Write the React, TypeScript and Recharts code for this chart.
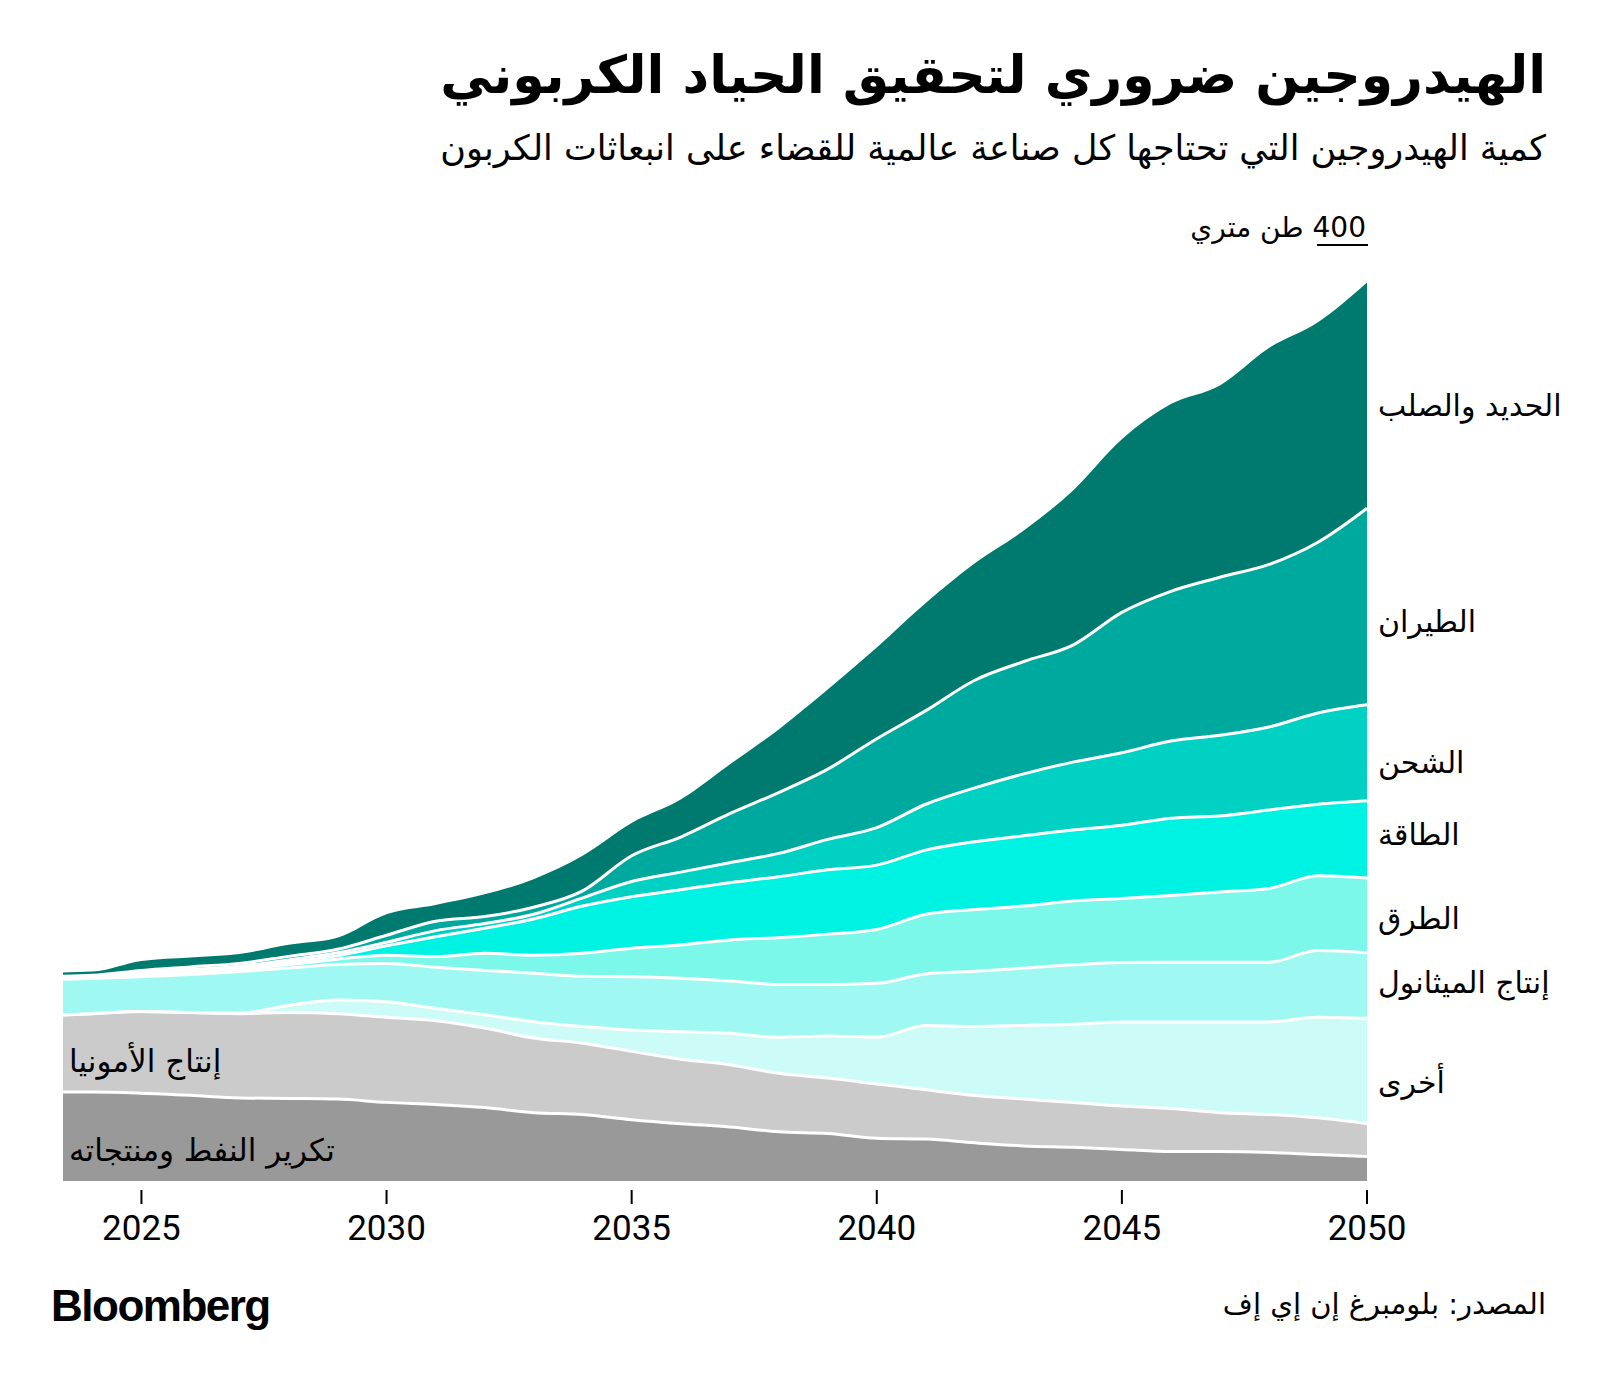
import { AreaChart, Area, XAxis, YAxis } from 'recharts';

// السنوات
const years = [
    2023, 2024, 2025, 2026, 2027, 2028, 2029, 2030, 2031, 2032, 2033, 2034, 2035, 2036,
    2037, 2038, 2039, 2040, 2041, 2042, 2043, 2044, 2045, 2046, 2047, 2048, 2049, 2050,
];

// الطلب على الهيدروجين حسب القطاع (مليون طن متري)
const oil = [38, 38, 37.5, 36.6, 35.5, 35.3, 35, 33.6, 32.7, 31.4, 29.2, 28.4, 26.2, 24.5, 23.1, 21, 20.3, 18.3, 17.9, 16.3, 15, 14.4, 13.5, 12.6, 12.6, 12.2, 11.3, 10.5];
const ammonia = [32.5, 33.5, 34.9, 35.4, 36, 36.7, 36.5, 36.4, 35.8, 34, 31.9, 30.5, 29.2, 27.5, 26.6, 25, 23.7, 23.2, 21.1, 20.2, 20, 19.1, 18.5, 18.4, 16.6, 16.2, 15.7, 14];
const other = [0, 0, 0, 0, 0.3, 3, 5.9, 6.6, 5.3, 5.6, 7, 7.1, 9.1, 11.8, 13.4, 15.4, 18, 19.9, 27.5, 29.5, 31.5, 33.5, 36, 37, 38.8, 39.6, 43, 45];
const methanol = [15.5, 15, 14.9, 16.2, 17.7, 16, 15.1, 16.4, 17.5, 19, 20.7, 21.5, 22.8, 22.8, 22.4, 22.6, 22, 23.1, 22, 23.6, 24.5, 25.4, 25.4, 25.5, 25.5, 25.5, 28.5, 28];
const road = [0.4, 0.4, 0.7, 0.8, 0.8, 1.5, 2.3, 3.5, 4.6, 7.3, 7.7, 9.8, 12.2, 14.3, 17.5, 20, 21.5, 23, 25.5, 26.4, 26.5, 27.3, 27.3, 28.5, 30, 31.5, 32, 32];
const power = [0.3, 0.3, 0.6, 0.7, 0.7, 1, 1.5, 4, 8.5, 10.7, 15.5, 20.2, 22, 23.6, 24.5, 26, 27.5, 27.5, 27.4, 29, 30, 30.3, 31.3, 33, 32.5, 33.5, 30.5, 33];
const shipping = [0.3, 0.3, 0.6, 0.7, 0.8, 1, 1.2, 1.5, 2.6, 2, 2, 3.5, 6.5, 7.5, 8.5, 10, 13, 16, 19.6, 23, 26.5, 29, 31, 33, 34.5, 35.5, 39, 41];
const aviation = [0.4, 0.4, 0.8, 1.1, 1.2, 1.5, 1.5, 3, 4, 3, 3, 3, 11, 15, 21, 26, 30, 38, 40, 46, 48, 50, 60, 64, 67.5, 69.5, 73, 84];
const steel = [1.6, 1.6, 4, 4, 4, 5, 5, 9, 7, 9.5, 12, 15, 14, 16, 21, 27, 34, 39, 46, 50, 56, 66, 74, 80, 82, 92.5, 94, 96.5];

const xTicks = [2025, 2030, 2035, 2040, 2045, 2050];

const data = years.map((year, i) => ({
    year,
    oil: oil[i],
    ammonia: ammonia[i],
    other: other[i],
    methanol: methanol[i],
    road: road[i],
    power: power[i],
    shipping: shipping[i],
    aviation: aviation[i],
    steel: steel[i],
}));

// من الأسفل إلى الأعلى
const layers = [
    { key: 'oil', color: '#999999' },
    { key: 'ammonia', color: '#cbcbcb' },
    { key: 'other', color: '#cdfcf8' },
    { key: 'methanol', color: '#9ff9f2' },
    { key: 'road', color: '#7cf8ea' },
    { key: 'power', color: '#00f2e2' },
    { key: 'shipping', color: '#00d1c3' },
    { key: 'aviation', color: '#00a99e' },
    { key: 'steel', color: '#00796e' },
];

const rightLabels = [
    { text: 'الحديد والصلب', y: 406 },
    { text: 'الطيران', y: 622 },
    { text: 'الشحن', y: 763 },
    { text: 'الطاقة', y: 835 },
    { text: 'الطرق', y: 919 },
    { text: 'إنتاج الميثانول', y: 983 },
    { text: 'أخرى', y: 1083 },
];

const arabic = "'DejaVu Sans', sans-serif";

const YearTick = ({ x, y, payload }: any) => (
    <g>
        <line x1={x} x2={x} y1={y + 9} y2={y + 23} stroke="#000" strokeWidth={2} />
        <text x={x} y={y + 59} textAnchor="middle" fontSize={35} fontFamily="Roboto" fill="#000">
            {payload.value}
        </text>
    </g>
);

const textBase = {
    position: 'absolute' as const,
    fontFamily: arabic,
    color: '#000',
    whiteSpace: 'nowrap' as const,
};

export default function App() {
    return (
        <div
            style={{
                position: 'absolute',
                left: 0,
                top: 0,
                width: 1600,
                height: 1385,
                background: '#fff',
                overflow: 'hidden',
            }}
        >
            <div dir="rtl" style={{ ...textBase, right: 54, top: 45, fontWeight: 'bold', fontSize: 52 }}>
                الهيدروجين ضروري لتحقيق الحياد الكربوني
            </div>
            <div dir="rtl" style={{ ...textBase, right: 54, top: 128, fontSize: 35 }}>
                كمية الهيدروجين التي تحتاجها كل صناعة عالمية للقضاء على انبعاثات الكربون
            </div>

            <div dir="rtl" style={{ ...textBase, right: 1600 - 1366, top: 211, fontSize: 28 }}>
                400 طن متري
            </div>
            <div
                style={{
                    position: 'absolute',
                    left: 1317,
                    top: 244,
                    width: 51,
                    height: 2,
                    background: '#000',
                }}
            />

            <div style={{ position: 'absolute', left: 0, top: 0 }}>
                <AreaChart
                    width={1600}
                    height={1385}
                    data={data}
                    margin={{ top: 245, right: 233, bottom: 144, left: 63 }}
                >
                    <XAxis
                        dataKey="year"
                        type="number"
                        domain={[2023.4, 2050]}
                        allowDataOverflow
                        ticks={xTicks}
                        interval={0}
                        axisLine={false}
                        tickLine={false}
                        tickSize={0}
                        tickMargin={0}
                        height={60}
                        tick={<YearTick />}
                    />
                    <YAxis hide domain={[0, 400]} allowDataOverflow />
                    {layers.map((l) => (
                        <Area
                            key={'fill-' + l.key}
                            dataKey={l.key}
                            stackId="fill"
                            type="monotone"
                            fill={l.color}
                            fillOpacity={1}
                            stroke="none"
                            isAnimationActive={false}
                        />
                    ))}
                    {/* خطوط بيضاء فاصلة بين الطبقات */}
                    {layers.map((l) => (
                        <Area
                            key={'line-' + l.key}
                            dataKey={l.key}
                            stackId="line"
                            type="monotone"
                            fill="none"
                            stroke={l.key === 'steel' ? 'none' : '#ffffff'}
                            strokeWidth={3}
                            isAnimationActive={false}
                        />
                    ))}
                </AreaChart>
            </div>

            {rightLabels.map((l) => (
                <div
                    key={l.text}
                    dir="rtl"
                    style={{ ...textBase, left: 1378, top: l.y - 18, fontSize: 30, lineHeight: '36px' }}
                >
                    {l.text}
                </div>
            ))}

            <div dir="rtl" style={{ ...textBase, left: 69, top: 1043, fontSize: 31, lineHeight: '36px' }}>
                إنتاج الأمونيا
            </div>
            <div dir="rtl" style={{ ...textBase, left: 69, top: 1132, fontSize: 31, lineHeight: '36px' }}>
                تكرير النفط ومنتجاته
            </div>

            <div
                style={{
                    position: 'absolute',
                    left: 51,
                    top: 1281,
                    fontFamily: "'Liberation Sans', Arial, sans-serif",
                    fontWeight: 'bold',
                    fontSize: 44,
                    letterSpacing: -1.5,
                    lineHeight: '50px',
                    color: '#000',
                }}
            >
                Bloomberg
            </div>
            <div dir="rtl" style={{ ...textBase, right: 54, top: 1287, fontSize: 29, lineHeight: '34px' }}>
                المصدر: بلومبرغ إن إي إف
            </div>
        </div>
    );
}
